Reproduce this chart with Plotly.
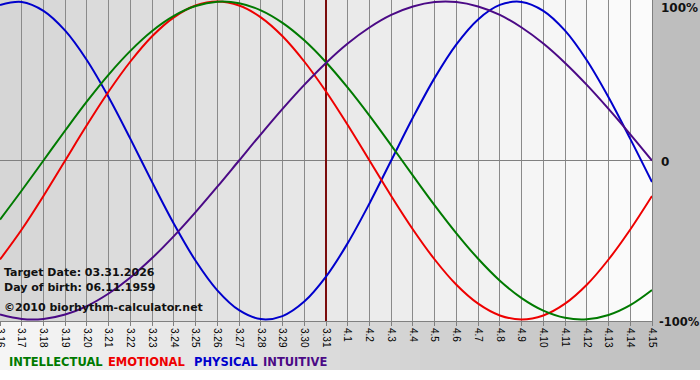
import plotly.graph_objects as go

# ---- data ----
day_labels = ["3.16", "3.17", "3.18", "3.19", "3.20", "3.21", "3.22", "3.23", "3.24", "3.25",
              "3.26", "3.27", "3.28", "3.29", "3.30", "3.31", "4.1", "4.2", "4.3", "4.4",
              "4.5", "4.6", "4.7", "4.8", "4.9", "4.10", "4.11", "4.12", "4.13", "4.14", "4.15"]

physical = [97.9, 99.8, 94.2, 81.7, 63.1, 39.8, 13.6, -13.6, -39.8, -63.1,
            -81.7, -94.2, -99.8, -97.9, -88.8, -73.1, -52.0, -27.0, 0.0, 27.0,
            52.0, 73.1, 88.8, 97.9, 99.8, 94.2, 81.7, 63.1, 39.8, 13.6, -13.6]

emotional = [-62.3, -43.4, -22.3, 0.0, 22.3, 43.4, 62.3, 78.2, 90.1, 97.5,
             100.0, 97.5, 90.1, 78.2, 62.3, 43.4, 22.3, 0.0, -22.3, -43.4,
             -62.3, -78.2, -90.1, -97.5, -100.0, -97.5, -90.1, -78.2, -62.3, -43.4, -22.3]

intellectual = [-37.2, -18.9, 0.0, 18.9, 37.2, 54.1, 69.0, 81.5, 91.0, 97.2,
                99.9, 99.0, 94.5, 86.6, 75.6, 61.8, 45.8, 28.2, 9.5, -9.5,
                -28.2, -45.8, -61.8, -75.6, -86.6, -94.5, -99.0, -99.9, -97.2, -91.0, -81.5]

intuitive = [-96.9, -99.7, -99.7, -96.9, -91.6, -83.7, -73.6, -61.4, -47.6, -32.5,
             -16.5, 0.0, 16.5, 32.5, 47.6, 61.4, 73.6, 83.7, 91.6, 96.9,
             99.7, 99.7, 96.9, 91.6, 83.7, 73.6, 61.4, 47.6, 32.5, 16.5, 0.0]

target_label = "3.31"
right_labels = ["100%", "0", "-100%"]
info_lines = ["Target Date: 03.31.2026", "Day of birth: 06.11.1959", "©2010 biorhythm-calculator.net"]
legend_names = ["INTELLECTUAL", "EMOTIONAL", "PHYSICAL", "INTUITIVE"]

# ---- styling / layout helpers ----
FIG_W, FIG_H = 700, 380
W, H = 652, 321          # plot area in px
x = list(range(len(day_labels)))
t_idx = day_labels.index(target_label)


def px_x(p):
    return p / W


def px_y(p):
    return (H - p) / H


def grey(v):
    return f"rgb({v},{v},{v})"


shapes = []
# frame gradient (light at left to grey at right)
n = 35
for k in range(n):
    v = round(246 - (246 - 188) * (k + 0.5) / n)
    shapes.append(dict(type="rect", xref="paper", yref="paper",
                       x0=px_x(FIG_W * k / n), x1=px_x(FIG_W * (k + 1) / n) + 0.003,
                       y0=px_y(370), y1=px_y(0),
                       fillcolor=grey(v), line_width=0, layer="below"))
# plot-area gradient (darker at left to white at right)
nd = len(x) - 1
for k in range(nd):
    v = round(213 + (252 - 213) * (k + 0.5) / nd)
    shapes.append(dict(type="rect", xref="x", yref="paper",
                       x0=x[k], x1=x[k + 1], y0=0, y1=1,
                       fillcolor=grey(v), line_width=0, layer="below"))

fig = go.Figure()

# target date marker
fig.add_trace(go.Scatter(x=[t_idx, t_idx], y=[-101, 101], mode="lines",
                         line=dict(color="#7a0c0c", width=2), hoverinfo="skip",
                         showlegend=False))

series = [
    ("PHYSICAL", physical, "#0000cc"),
    ("EMOTIONAL", emotional, "#ee0000"),
    ("INTELLECTUAL", intellectual, "#007a00"),
    ("INTUITIVE", intuitive, "#4b0a86"),
]
for name, vals, col in series:
    fig.add_trace(go.Scatter(x=x, y=vals, mode="lines", name=name,
                             line=dict(color=col, width=2, shape="spline", smoothing=1),
                             showlegend=False))

annotations = []
# right-hand percentage labels
for lab, py, px0, fs in zip(right_labels, [8, 162, 322], [659, 659, 657], [12, 12, 11.5]):
    annotations.append(dict(text="<b>" + lab + "</b>", xref="paper", yref="paper",
                            x=px_x(px0), y=px_y(py),
                            xanchor="left", yanchor="middle", showarrow=False,
                            font=dict(family="DejaVu Sans", size=fs, color="#111111")))
# info text
for line, py in zip(info_lines, [272, 287, 307]):
    annotations.append(dict(text="<b>" + line + "</b>", xref="paper", yref="paper",
                            x=px_x(2), y=px_y(py), xanchor="left", yanchor="middle",
                            showarrow=False,
                            font=dict(family="DejaVu Sans", size=11, color="#111111")))
# legend as coloured words
leg_cols = {"INTELLECTUAL": "#007a00", "EMOTIONAL": "#ee0000",
            "PHYSICAL": "#0000cc", "INTUITIVE": "#4b0a86"}
for name, px0 in zip(legend_names, [7, 106, 192, 261]):
    annotations.append(dict(text="<b>" + name + "</b>", xref="paper", yref="paper",
                            x=px_x(px0), y=px_y(362), xanchor="left", yanchor="middle",
                            showarrow=False,
                            font=dict(family="DejaVu Sans", size=11.5, color=leg_cols[name])))

fig.update_layout(
    template="none",
    width=FIG_W, height=FIG_H,
    margin=dict(l=0, r=FIG_W - W, t=0, b=FIG_H - H, pad=0),
    paper_bgcolor="white",
    plot_bgcolor="rgba(0,0,0,0)",
    showlegend=False,
    shapes=shapes,
    annotations=annotations,
    xaxis=dict(range=[0, len(x) - 1], tickmode="array", tickvals=x, ticktext=day_labels,
               tickangle=90, ticks="outside", ticklen=4, tickcolor="#808080", tickwidth=1,
               tickfont=dict(family="Liberation Sans", size=10, color="#000000"),
               ticklabeloverflow="allow",
               showgrid=True, gridcolor="#8a8a8a", gridwidth=1,
               showline=True, linecolor="#808080", linewidth=1, mirror=True,
               zeroline=False, automargin=False, fixedrange=True),
    yaxis=dict(range=[-101, 101], showticklabels=False, ticks="", showgrid=False,
               zeroline=True, zerolinecolor="#808080", zerolinewidth=1,
               showline=True, linecolor="#808080", linewidth=1, mirror=True,
               automargin=False, fixedrange=True),
)

fig.write_html("out.html", config={"displayModeBar": False},
               post_script="document.body.style.margin='0';document.body.style.padding='0';")
